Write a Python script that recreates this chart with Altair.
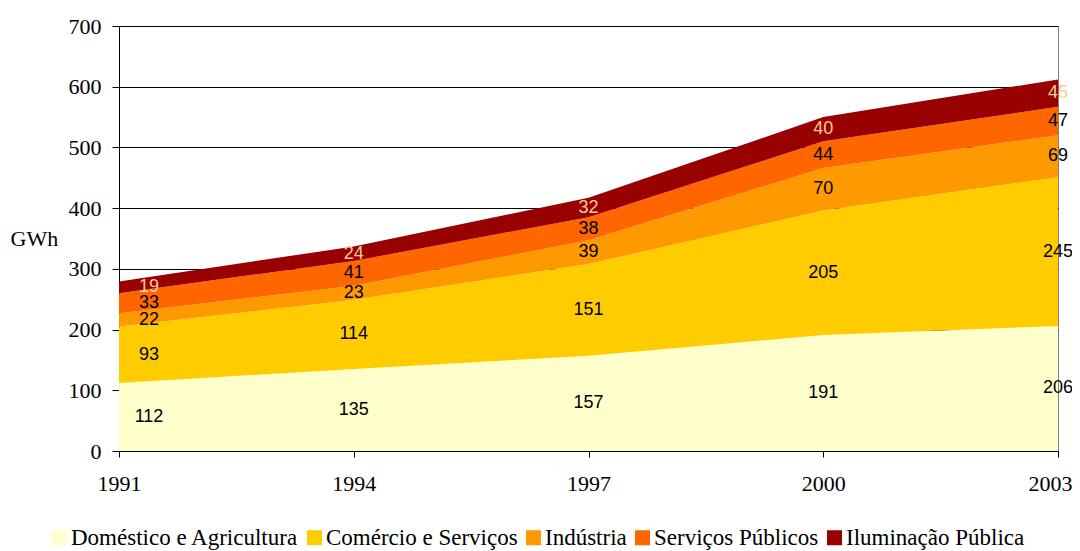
import altair as alt
import pandas as pd

years = [1991, 1994, 1997, 2000, 2003]
series = ["Doméstico e Agricultura", "Comércio e Serviços", "Indústria",
          "Serviços Públicos", "Iluminação Pública"]
domestico = [112, 135, 157, 191, 206]
comercio = [93, 114, 151, 205, 245]
industria = [22, 23, 39, 70, 69]
servicos = [33, 41, 38, 44, 47]
iluminacao = [19, 24, 32, 40, 45]
colors = ["#FFFFCC", "#FFCC00", "#FF9900", "#FF6600", "#990000"]
label_colors = ["#000000", "#000000", "#000000", "#000000", "#FFCC99"]
y_ticks = [0, 100, 200, 300, 400, 500, 600, 700]

values = [domestico, comercio, industria, servicos, iluminacao]
rows = []
for yi, y in enumerate(years):
    cum = 0
    for si, s in enumerate(series):
        v = values[si][yi]
        rows.append({"year": y, "series": s, "value": v, "order": si,
                     "mid": cum + v / 2, "lc": label_colors[si]})
        cum += v
df = pd.DataFrame(rows)

SERIF = "Liberation Serif"

x = alt.X("year:Q", scale=alt.Scale(domain=[1991, 2003], nice=False, zero=False),
          axis=alt.Axis(values=years, format="d", title=None, grid=False,
                        labelFont=SERIF, labelFontSize=22, labelColor="#000",
                        labelPadding=16, tickColor="#000", tickSize=6, domainColor="#000",
                        labelFlush=False,
                        labelOffset=alt.condition("datum.value == 2003",
                                                  alt.value(-8), alt.value(0))))

area = alt.Chart(df).mark_area(opacity=1).encode(
    x=x,
    y=alt.Y("value:Q", stack="zero",
            scale=alt.Scale(domain=[0, 700], nice=False),
            axis=alt.Axis(values=y_ticks, title="GWh", titleAngle=0, titleX=-109, titleY=212,
                          titleAlign="left", titleBaseline="middle",
                          titleFont=SERIF, titleFontSize=22,
                          titleFontWeight="normal", titleColor="#000",
                          labelFont=SERIF, labelFontSize=22, labelColor="#000",
                          labelPadding=11, tickColor="#000", tickSize=7, domainColor="#000",
                          gridColor="#000", gridWidth=1)),
    color=alt.Color("series:N", scale=alt.Scale(domain=series, range=colors),
                    sort=series,
                    legend=alt.Legend(title=None, orient="none", direction="horizontal",
                                      legendX=-71, legendY=500, symbolType="square",
                                      symbolSize=225, symbolStrokeWidth=0,
                                      labelFont=SERIF, labelFontSize=23,
                                      labelColor="#000", columnPadding=4, labelOffset=0,
                                      labelLimit=400)),
    order=alt.Order("order:Q", sort="ascending"),
)

text_first = alt.Chart(df).transform_filter("datum.year == 1991").mark_text(
    font="Liberation Sans", fontSize=18, dx=30, baseline="middle", clip=False).encode(
    x="year:Q", y="mid:Q", text="value:Q", color=alt.Color("lc:N", scale=None))

text_rest = alt.Chart(df).transform_filter("datum.year != 1991").mark_text(
    font="Liberation Sans", fontSize=18, baseline="middle", clip=False).encode(
    x="year:Q", y="mid:Q", text="value:Q", color=alt.Color("lc:N", scale=None))

chart = alt.layer(area, text_first, text_rest).properties(
    width=939, height=425,
    autosize=alt.AutoSizeParams(type="none"),
    padding={"left": 111, "top": 18, "right": 14, "bottom": 99},
).configure_view(stroke="#808080", strokeWidth=1)

chart.save("out.html", embed_options={"renderer": "svg", "actions": False})
